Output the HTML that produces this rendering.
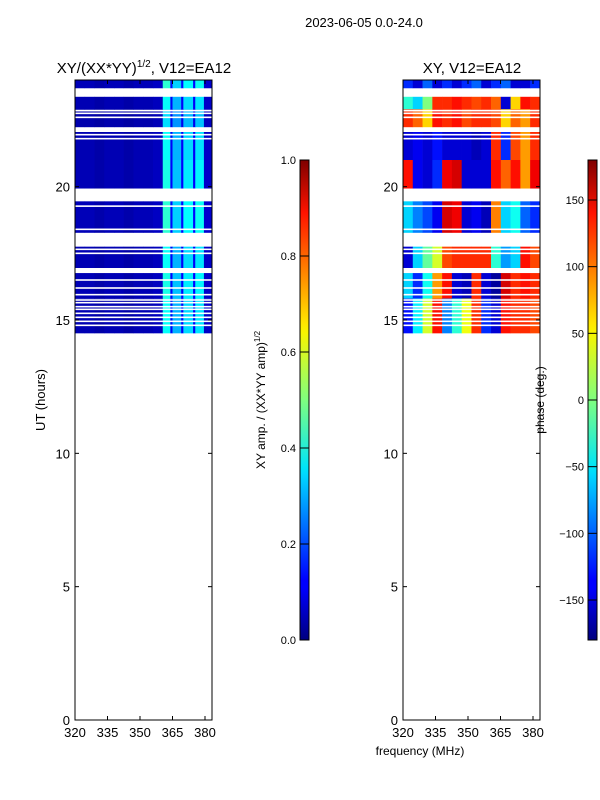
<!DOCTYPE html>
<html><head><meta charset="utf-8"><style>
html,body{margin:0;padding:0;background:#fff;}
svg{display:block;font-family:"Liberation Sans",sans-serif;}
</style></head><body>
<svg id="fig" width="600" height="800" viewBox="0 0 600 800">
<defs>
<linearGradient id="jetv" x1="0" y1="1" x2="0" y2="0">
<stop offset="0" stop-color="#00007f"/><stop offset="0.11" stop-color="#0000ff"/><stop offset="0.125" stop-color="#0000ff"/>
<stop offset="0.34" stop-color="#00d4ff"/><stop offset="0.36" stop-color="#00e5f8"/><stop offset="0.5" stop-color="#7fff7f"/>
<stop offset="0.64" stop-color="#f8f500"/><stop offset="0.66" stop-color="#ffe600"/><stop offset="0.89" stop-color="#ff1300"/><stop offset="1" stop-color="#7f0000"/>
</linearGradient>
</defs>
<text x="364" y="27" font-size="13" text-anchor="middle">2023-06-05 0.0-24.0</text>
<g id="p1"></g>
<g id="p2"></g>
<g id="axes"></g>
</svg>
<script>
// ---- data ----
const freqEdges = [320,324.5,329,333.5,338,342.5,347,351.5,356,360.5,364,365,369,370,374.5,375.5,379.5,383.2];
const ampValues = [0.05,0.05,0.04,0.05,0.05,0.04,0.05,0.05,0.06,0.38,0.12,0.3,0.12,0.34,0.12,0.35,0.07];
const bandStart = [23.69,22.9,22.23,21.0,19.93,18.27,16.95,15.8,14.5];
const bandEnd   = [24.0,23.37,22.9,22.05,21.0,19.45,17.75,16.76,15.8];
const ampFactor = [1.1,1.0,0.9,1.0,1.05,1.1,1.0,1.05,1.0];
const phaseA = [-120,-150,-100,-150,-120,-150,-120,-100,-150,-120,-100,-150,-150,-120];
const phaseB = [-30,-60,0,120,120,130,120,110,120,100,-150,60,130,120];
const phaseC = [120,100,60,130,120,130,110,120,120,110,60,100,80,120];
const phaseD1 = [-150,-140,-150,-130,-150,-150,-150,-160,-150,120,-120,110,80,120];
const phaseD2 = [130,-140,-150,-120,140,150,-150,-150,-150,130,100,130,80,140];
const phaseE = [-60,-90,-110,-140,150,140,-150,-140,-160,90,-60,-40,-100,-120];
const phaseF = [-150,-60,-10,30,110,120,120,120,120,-30,-80,-60,130,110];
const phaseG = [-60,-120,-40,80,130,-150,-160,120,-150,-170,150,120,130,120];
const phaseH = [-130,-50,30,130,-90,-30,40,120,-120,-150,130,120,120,110];
const phaseBands = [phaseA,phaseB,phaseC,phaseD1,phaseD2,phaseE,phaseF,phaseG,phaseH];
const flagLines = [22.85,22.75,22.6,21.95,21.8,19.27,18.4,17.65,17.5,16.5,16.2,15.95,15.75,15.65,15.5,15.4,15.25,15.1,14.95,14.8];
const xTicks = [320,335,350,365,380];
const yTicks = [0,5,10,15,20];
const ampTicks = [0.0,0.2,0.4,0.6,0.8,1.0];
const phaseTicks = [-150,-100,-50,0,50,100,150];

// ---- scales ----
const NS="http://www.w3.org/2000/svg";
const yT = h => 720 - h*(640/24);
const xF1 = f => 75 + (f-320)*(130/60);
const xF2 = f => 403 + (f-320)*(130/60);
const FMAX = 383.2;
function jet(v){v=Math.max(0,Math.min(1,v));
 const r=Math.max(0,Math.min(1,1.5-Math.abs(4*v-3))),g=Math.max(0,Math.min(1,1.5-Math.abs(4*v-2))),b=Math.max(0,Math.min(1,1.5-Math.abs(4*v-1)));
 return `rgb(${Math.round(r*255)},${Math.round(g*255)},${Math.round(b*255)})`;}
function el(tag,attrs,parent){const e=document.createElementNS(NS,tag);for(const k in attrs)e.setAttribute(k,attrs[k]);parent.appendChild(e);return e;}
const p1=document.getElementById('p1'),p2=document.getElementById('p2'),ax=document.getElementById('axes');

bandStart.forEach((bs,bi)=>{
 const be=bandEnd[bi];
 ampValues.forEach((a,ci)=>{
  const x0=xF1(freqEdges[ci]),x1=xF1(freqEdges[ci+1]);
  const r=el('rect',{x:x0,y:yT(be),width:x1-x0+0.3,height:yT(bs)-yT(be),fill:jet(a*ampFactor[bi])},p1);
  
  
 });
 const n=phaseBands[bi].length,w=(FMAX-320)/n;
 phaseBands[bi].forEach((p,ci)=>{
  const x0=xF2(320+ci*w),x1=xF2(320+(ci+1)*w);
  const r=el('rect',{x:x0,y:yT(be),width:x1-x0+0.3,height:yT(bs)-yT(be),fill:jet((p+180)/360)},p2);
  
  
 });
});
flagLines.forEach(h=>{
 [[75,p1],[403,p2]].forEach(([x,g])=>{
  const r=el('rect',{x:x,y:yT(h)-0.8,width:137,height:1.6,fill:'#fff'},g);
  
  
 });
});

function panel(x0){
 const f=el('rect',{x:x0,y:80,width:137,height:640,fill:'none',stroke:'#000','stroke-width':1},ax);
 
 
 xTicks.forEach(v=>{const x=x0+(v-320)*(130/60);
  el('line',{x1:x,y1:720,x2:x,y2:716,stroke:'#000'},ax);el('line',{x1:x,y1:80,x2:x,y2:84,stroke:'#000'},ax);
  const t=el('text',{x:x,y:737,'font-size':13,'text-anchor':'middle'},ax);t.textContent=v;
  
  });
 yTicks.forEach(v=>{const y=yT(v);
  el('line',{x1:x0,y1:y,x2:x0+4,y2:y,stroke:'#000'},ax);el('line',{x1:x0+137,y1:y,x2:x0+133,y2:y,stroke:'#000'},ax);
  const t=el('text',{x:x0-5,y:y+5,'font-size':13,'text-anchor':'end'},ax);t.textContent=v;
  
  });
}
panel(75);panel(403);

function cbar(x0,ticks,lo,hi,fmt){
 const r=el('rect',{x:x0,y:160,width:9,height:480,fill:'url(#jetv)',stroke:'#000','stroke-width':1},ax);
 
 
 ticks.forEach(v=>{const y=640-(v-lo)/(hi-lo)*480;
  el('line',{x1:x0,y1:y,x2:x0+9,y2:y,stroke:'#000'},ax);
  const t=el('text',{x:x0-4,y:y+4,'font-size':11,'text-anchor':'end'},ax);t.textContent=fmt(v);
  
  });
}
cbar(300,ampTicks,0,1,v=>v.toFixed(1));
cbar(588,phaseTicks,-180,180,v=>v<0?'\u2212'+(-v):String(v));
</script>
<div style="position:absolute;left:0;top:0;width:600px;height:800px;pointer-events:none;">
<svg width="600" height="800" style="position:absolute;left:0;top:0;font-family:'Liberation Sans',sans-serif;">
<text x="144" y="73" font-size="15" text-anchor="middle">XY/(XX*YY)<tspan font-size="10" dy="-6">1/2</tspan><tspan dy="6">, V12=EA12</tspan></text>
<text x="472" y="73" font-size="15" text-anchor="middle">XY, V12=EA12</text>
<text transform="translate(45,400) rotate(-90)" font-size="13" text-anchor="middle">UT (hours)</text>
<text x="420" y="755" font-size="12" text-anchor="middle">frequency (MHz)</text>
<text transform="translate(265,400) rotate(-90)" font-size="12" text-anchor="middle">XY amp. / (XX*YY amp)<tspan font-size="8" dy="-5">1/2</tspan></text>
<text transform="translate(544,400) rotate(-90)" font-size="12" text-anchor="middle">phase (deg.)</text>
</svg>
</div>
</body></html>
